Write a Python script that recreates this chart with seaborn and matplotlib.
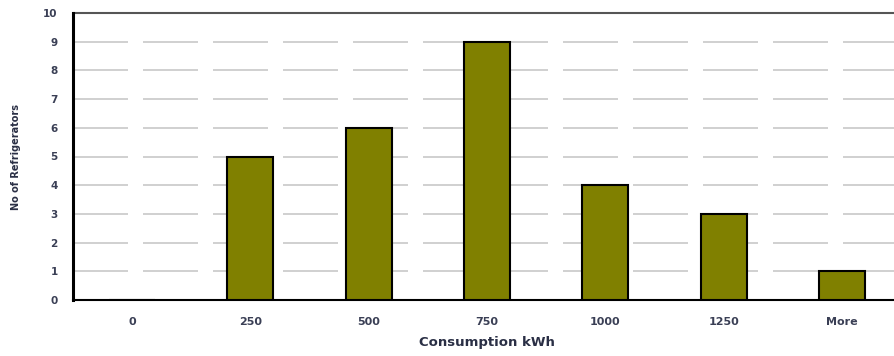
import matplotlib
matplotlib.use("Agg")
import matplotlib.pyplot as plt
import seaborn as sns
import numpy as np

# Frequency of refrigerators per consumption bin
categories = ["0", "250", "500", "750", "1000", "1250", "More"]
counts = [0, 5, 6, 9, 4, 3, 1]
y_ticks = [0, 1, 2, 3, 4, 5, 6, 7, 8, 9, 10]

sns.set_style("white")
plt.rcParams["font.family"] = ["DejaVu Sans"]

fig = plt.figure(figsize=(8.94, 3.56), dpi=100)
# axes runs slightly past the right edge of the figure
ax = fig.add_axes([73 / 894, 56 / 356, 828 / 894, 287 / 356])

sns.barplot(x=categories, y=counts, order=categories, color="#808000",
            saturation=1, width=0.39, edgecolor="black", linewidth=1.5,
            ax=ax, zorder=3)

ax.set_xlim(-0.5, 6.5)
ax.set_ylim(0, 10)
ax.set_yticks(y_ticks)
ax.set_yticklabels([str(t) for t in y_ticks], fontsize=7.5, fontweight="bold",
                   color="#3a3f55")

# dashed horizontal gridlines, solid line at the top
for t in y_ticks[1:-1]:
    ax.axhline(t, color="#c8c8c8", lw=1.2, linestyle=(0, (33, 9)), zorder=1)
ax.axhline(10, color="#555555", lw=1.5, zorder=1, clip_on=False)

# category labels centred under bars, tick marks at bin boundaries
ax.set_xticks(np.arange(len(categories)))
ax.set_xticklabels(categories, fontsize=8, fontweight="bold", color="#3a3f55")
ax.tick_params(axis="x", which="major", length=0, pad=12)
ax.set_xticks(np.arange(len(categories)) + 0.5, minor=True)
ax.tick_params(axis="x", which="minor", length=4, width=1.5, color="black",
               direction="out")
ax.tick_params(axis="y", length=5, width=1.5, color="black", direction="out", pad=6)

for side in ["top", "right"]:
    ax.spines[side].set_visible(False)
ax.spines["left"].set_linewidth(2.2)
ax.spines["left"].set_color("black")
ax.spines["bottom"].set_linewidth(1.5)
ax.spines["bottom"].set_color("black")

ax.set_xlabel("Consumption kWh", fontsize=9.5, fontweight="bold", color="#2a2f45",
              labelpad=7)
ax.set_ylabel("No of Refrigerators", fontsize=7, fontweight="bold",
              color="#2a2f45", labelpad=16)

fig.savefig("out.png", dpi=100)
